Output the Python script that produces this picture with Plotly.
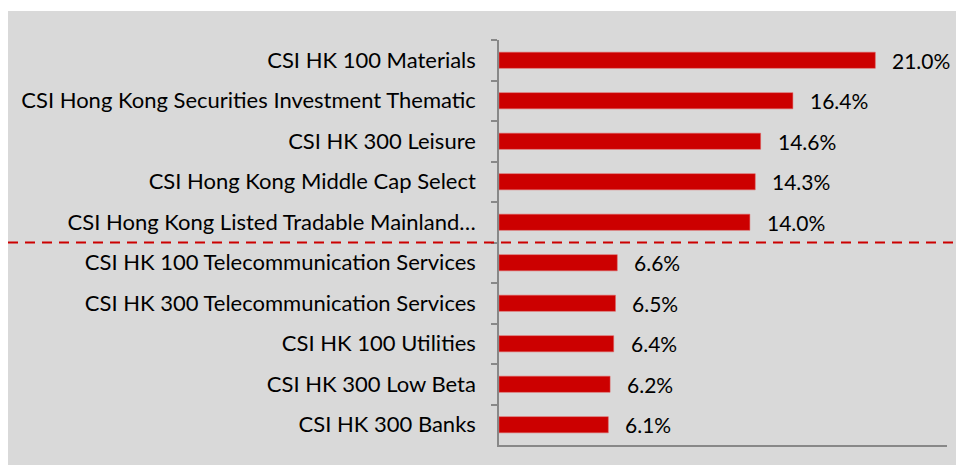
import plotly.graph_objects as go

categories = [
    "CSI HK 100 Materials",
    "CSI Hong Kong Securities Investment Thematic",
    "CSI HK 300 Leisure",
    "CSI Hong Kong Middle Cap Select",
    "CSI Hong Kong Listed Tradable Mainland…",
    "CSI HK 100 Telecommunication Services",
    "CSI HK 300 Telecommunication Services",
    "CSI HK 100 Utilities",
    "CSI HK 300 Low Beta",
    "CSI HK 300 Banks",
]
values = [21.0, 16.4, 14.6, 14.3, 14.0, 6.6, 6.5, 6.4, 6.2, 6.1]
labels = [f"{v:.1f}%" for v in values]

FONT = "Lato"
W, H = 956, 457
L, R, T, B = 491, 17, 32, 20
pw = W - L - R
ph = H - T - B

fig = go.Figure()
fig.add_trace(go.Bar(
    x=values, y=categories, orientation="h",
    marker=dict(color="#cc0000", line=dict(color="#e06060", width=0.5)),
    width=0.4, hoverinfo="skip",
))

annotations = []
for c, v, t in zip(categories, values, labels):
    annotations.append(dict(x=v, y=c, xref="x", yref="y", text=t, showarrow=False,
                            xanchor="left", yanchor="middle", xshift=15,
                            font=dict(family=FONT, size=21, color="#000000")))

shapes = [
    # grey chart background
    dict(type="rect", xref="paper", yref="paper",
         x0=(0 - L) / pw, x1=(W - L) / pw, y0=-B / ph, y1=(H - 3 - B) / ph,
         fillcolor="#d9d9d9", line=dict(width=0), layer="below"),
    # dashed separator
    dict(type="line", xref="paper", yref="y",
         x0=(0 - L) / pw, x1=(W - L) / pw, y0=4.5, y1=4.5,
         line=dict(color="#cc0000", width=2, dash="10px,7px")),
]

fig.update_layout(
    width=W, height=H,
    margin=dict(l=L, r=R, t=T, b=B),
    paper_bgcolor="white",
    plot_bgcolor="rgba(0,0,0,0)",
    showlegend=False,
    bargap=0.6,
    annotations=annotations,
    shapes=shapes,
    xaxis=dict(range=[0, 25], showgrid=False, zeroline=False, showticklabels=False,
               showline=True, linecolor="#888888", linewidth=1.5, ticks=""),
    yaxis=dict(autorange="reversed", showgrid=False, zeroline=False,
               showline=True, linecolor="#888888", linewidth=1.5,
               ticks="outside", ticklen=6, tickcolor="#888888", tickwidth=1.5,
               tickson="boundaries", ticklabelstandoff=17,
               tickfont=dict(family=FONT, size=22, color="#000000")),
)

fig.write_html("out.html")
